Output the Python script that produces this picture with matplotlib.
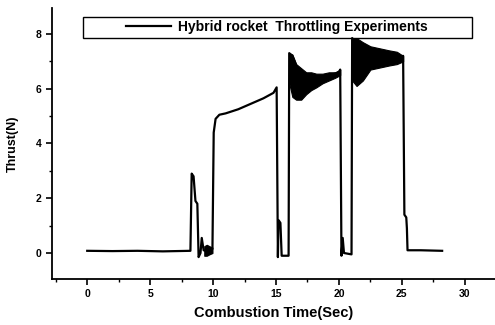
import matplotlib
matplotlib.use("Agg")
import matplotlib.pyplot as plt
from matplotlib.patches import Rectangle
from matplotlib.ticker import MultipleLocator

plt.rcParams['font.family'] = ['Liberation Sans', 'DejaVu Sans']

# thrust trace (time in s, thrust in N)
time_s = [0.0, 2.0, 4.0, 6.0, 8.2, 8.3, 8.45, 8.6, 8.75, 8.85, 9.0, 9.1, 9.25, 9.6, 9.95,
          10.05, 10.2, 10.5, 11.0, 12.0, 13.0, 14.0, 14.8, 15.05, 15.15, 15.2, 15.35, 15.45, 16.0,
          16.05, 16.3, 17.0, 18.0, 19.0, 20.0, 20.1, 20.2, 20.3, 20.4, 21.0,
          21.05, 21.5, 22.5, 23.5, 24.5, 25.1, 25.2, 25.35, 25.4, 25.45, 26.5, 28.2]
thrust_n = [0.08, 0.07, 0.08, 0.06, 0.08, 2.9, 2.8, 1.9, 1.8, -0.15, 0.0, 0.55, 0.1, 0.05, 0.15,
            4.4, 4.9, 5.05, 5.1, 5.25, 5.45, 5.65, 5.85, 6.05, -0.15, 1.2, 1.1, -0.1, -0.1,
            7.3, 7.2, 6.4, 6.4, 6.45, 6.6, 6.7, -0.1, 0.55, 0.0, -0.05,
            7.85, 7.6, 7.3, 7.2, 7.1, 7.2, 1.4, 1.3, 0.9, 0.1, 0.1, 0.08]

# oscillating parts, drawn as envelopes
osc3_t = [16.05, 16.3, 16.6, 17.0, 17.4, 17.8, 18.2, 18.7, 19.2, 19.7, 20.1]
osc3_hi = [7.3, 7.25, 6.9, 6.75, 6.6, 6.6, 6.55, 6.55, 6.6, 6.6, 6.7]
osc3_lo = [6.2, 5.7, 5.6, 5.6, 5.8, 5.95, 6.05, 6.2, 6.3, 6.4, 6.5]

osc4_t = [21.05, 21.4, 21.9, 22.5, 23.0, 23.5, 24.0, 24.6, 25.1]
osc4_hi = [7.85, 7.85, 7.7, 7.55, 7.5, 7.45, 7.4, 7.35, 7.2]
osc4_lo = [6.3, 6.1, 6.3, 6.7, 6.75, 6.8, 6.85, 6.9, 7.0]

osc1_t = [9.3, 9.5, 9.7, 9.95]
osc1_hi = [0.25, 0.3, 0.25, 0.2]
osc1_lo = [-0.1, -0.1, -0.05, 0.0]

fig = plt.figure(figsize=(4.95, 3.25), dpi=100)
ax = fig.add_axes([0.105, 0.1415, 0.895, 0.834])

ax.plot(time_s, thrust_n, color='black', lw=1.6,
        label='Hybrid rocket  Throttling Experiments')
for t, hi, lo in [(osc1_t, osc1_hi, osc1_lo), (osc3_t, osc3_hi, osc3_lo), (osc4_t, osc4_hi, osc4_lo)]:
    ax.fill_between(t, lo, hi, color='black', lw=0.8)

ax.set_xlim(-2.8, 32.4)
ax.set_ylim(-0.95, 8.95)
ax.xaxis.set_major_locator(MultipleLocator(5))
ax.xaxis.set_minor_locator(MultipleLocator(2.5))
ax.yaxis.set_major_locator(MultipleLocator(2))
ax.yaxis.set_minor_locator(MultipleLocator(1))
ax.tick_params(which='major', direction='out', length=4, width=1.2, labelsize=7.5)
ax.tick_params(which='minor', direction='out', length=2.5, width=1.0)
for lbl in ax.get_xticklabels() + ax.get_yticklabels():
    lbl.set_fontweight('bold')
for side in ['top', 'right']:
    ax.spines[side].set_visible(False)
for side in ['left', 'bottom']:
    ax.spines[side].set_linewidth(1.3)

ax.set_xlabel('Combustion Time(Sec)', fontsize=10.5, fontweight='bold', labelpad=5)
ax.set_ylabel('Thrust(N)', fontsize=9, fontweight='bold', labelpad=12)

ax.legend(loc='center', bbox_to_anchor=(0.508, 0.93), frameon=False,
          prop={'size': 10, 'weight': 'bold'},
          handlelength=3.2, handletextpad=0.5)
ax.add_patch(Rectangle((0.07, 0.889), 0.878, 0.078, transform=ax.transAxes,
                       fill=False, edgecolor='black', lw=1.0))

fig.savefig('out.png', dpi=100)
